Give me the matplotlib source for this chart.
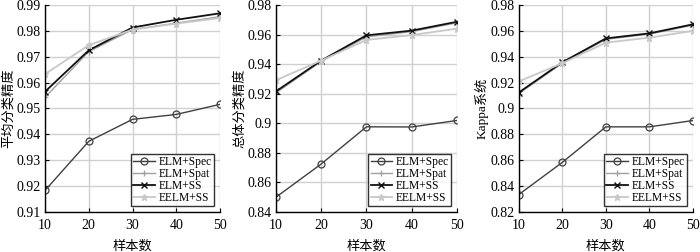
import numpy as np
import matplotlib.pyplot as plt

samples = [10, 20, 30, 40, 50]

# average accuracy
aa_spec = [0.9183, 0.9373, 0.9458, 0.9477, 0.9516]
aa_spat = [0.9543, 0.9720, 0.9805, 0.9830, 0.9855]
aa_ss = [0.9565, 0.9725, 0.9813, 0.9843, 0.9868]
aa_eelm = [0.9633, 0.9745, 0.9805, 0.9828, 0.9850]

# overall accuracy
oa_spec = [0.8499, 0.8724, 0.8976, 0.8975, 0.9019]
oa_spat = [0.9205, 0.9418, 0.9585, 0.9620, 0.9680]
oa_ss = [0.9215, 0.9424, 0.9595, 0.9627, 0.9687]
oa_eelm = [0.9291, 0.9424, 0.9564, 0.9597, 0.9640]

# kappa
ka_spec = [0.8334, 0.8583, 0.8858, 0.8858, 0.8907]
ka_spat = [0.9115, 0.9350, 0.9535, 0.9575, 0.9645]
ka_ss = [0.9123, 0.9357, 0.9542, 0.9581, 0.9651]
ka_eelm = [0.9209, 0.9350, 0.9509, 0.9548, 0.9600]

labels = ['ELM+Spec', 'ELM+Spat', 'ELM+SS', 'EELM+SS']
ylabels = ['平均分类精度', '总体分类精度', 'Kappa系统']
ylims = [(0.91, 0.99), (0.84, 0.98), (0.82, 0.98)]
ysteps = [0.01, 0.02, 0.02]

plt.rcParams['font.family'] = ['Liberation Serif', 'Noto Sans CJK SC']
plt.rcParams['font.size'] = 10

fig = plt.figure(figsize=(7, 2.52), dpi=100)
positions = [[0.0643, 0.159, 0.250, 0.821],
             [0.394, 0.159, 0.259, 0.821],
             [0.741, 0.159, 0.249, 0.821]]
data = [(aa_spec, aa_spat, aa_ss, aa_eelm),
        (oa_spec, oa_spat, oa_ss, oa_eelm),
        (ka_spec, ka_spat, ka_ss, ka_eelm)]

for i in range(3):
    ax = fig.add_axes(positions[i])
    spec, spat, ss, eelm = data[i]
    ax.plot(samples, spec, color='#404040', lw=1.0, marker='o', ms=5, mfc='none', mew=0.9, label=labels[0])
    ax.plot(samples, spat, color='#a0a0a0', lw=1.0, marker='+', ms=5, mew=0.9, label=labels[1])
    ax.plot(samples, ss, color='#111111', lw=1.3, marker='x', ms=4, mew=1.0, label=labels[2])
    ax.plot(samples, eelm, color='#c8c8c8', lw=1.3, marker='*', ms=5, label=labels[3])
    ax.set_xlim(10, 50)
    ax.set_ylim(*ylims[i])
    ax.set_xticks(samples)
    ax.set_yticks(np.arange(ylims[i][0], ylims[i][1] + 1e-9, ysteps[i]))
    ax.set_yticklabels(['%g' % round(v, 2) for v in ax.get_yticks()])
    ax.grid(True, color='#d0d0d0', lw=1.0)
    ax.set_axisbelow(True)
    for s in ['top', 'right']:
        ax.spines[s].set_visible(False)
    ax.spines['left'].set_linewidth(1.0)
    ax.spines['bottom'].set_linewidth(1.0)
    ax.tick_params(direction='in', length=3, pad=3)
    ax.tick_params(axis='x', pad=5)
    ax.set_xlabel('样本数', fontsize=9.5, labelpad=6)
    ax.set_ylabel(ylabels[i], fontsize=9.5, labelpad=1)
    leg = ax.legend(loc='lower right', fontsize=8.3, frameon=True, fancybox=False,
                    borderaxespad=0.5, handlelength=1.9, handletextpad=0.3,
                    borderpad=0.2, labelspacing=0.0)
    leg.get_frame().set_edgecolor('black')
    leg.get_frame().set_linewidth(1.0)

fig.savefig('out.png', dpi=100)
